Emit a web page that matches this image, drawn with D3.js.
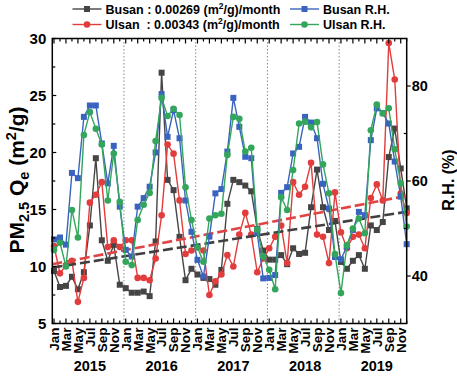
<!DOCTYPE html>
<html><head><meta charset="utf-8">
<script src="https://cdn.jsdelivr.net/npm/d3@7"></script>
<style>
body{margin:0;background:#fff;}
svg{display:block;font-family:"Liberation Sans",Arial,sans-serif;font-weight:bold;}
</style>
</head><body>
<svg id="chart" width="457" height="384"></svg>
<script>
// ---------- data ----------
const monthNames = ["Jan","Feb","Mar","Apr","May","Jun","Jul","Aug","Sep","Oct","Nov","Dec"];
const years = ["2015","2016","2017","2018","2019"];
const busanPM = [
  9.6, 8.2, 8.3, 9.1, 8.0, 9.5, 13.6, 19.5, 12.3, 10.5, 11.9, 8.4,
  8.1, 7.7, 7.7, 7.8, 7.4, 12.2, 27.0, 17.6, 16.7, 12.6, 8.8, 9.8,
  9.3, 9.0, 8.9, 8.4, 9.7, 15.5, 17.6, 17.4, 17.1, 16.6, 13.3, 11.4,
  10.6, 10.6, 11.0, 10.2, 11.6, 11.1, 11.2, 15.2, 18.5, 15.2, 13.2, 14.0,
  10.4, 9.8, 10.5, 11.0, 9.8, 13.6, 13.2, 13.9, 19.6, 22.1, 18.6, 15.1
];
const ulsanPM = [
  11.8, 9.4, 10.1, 10.5, 6.9, 9.0, 15.6, 16.3, 17.4, 11.7, 12.3, 11.7,
  12.3, 12.3, 9.0, 9.0, 8.8, 10.7, 14.5, 20.7, 19.9, 15.8, 11.1, 11.4,
  11.7, 11.4, 7.5, 8.7, 9.3, 11.0, 10.0, 12.8, 14.7, 12.8, 9.5, 10.7,
  11.6, 12.6, 13.6, 10.3, 17.4, 16.3, 17.0, 19.1, 12.8, 12.6, 10.3, 16.5,
  13.0, 11.6, 12.6, 12.8, 11.6, 16.0, 17.2, 15.8, 29.6, 26.4, 16.4, 14.7
];
const busanRH = [
  47.7, 48.1, 46.6, 61.7, 60.6, 73.5, 75.9, 75.9, 67.9, 59.5, 67.4, 54.6,
  45.5, 44.1, 54.6, 56.4, 58.8, 66.0, 78.3, 69.3, 74.9, 69.0, 55.9, 49.3,
  43.4, 39.9, 48.3, 57.4, 58.3, 66.2, 77.5, 71.4, 65.1, 64.8, 49.0, 39.5,
  39.6, 40.2, 57.5, 58.7, 65.8, 67.2, 73.5, 72.3, 69.0, 59.4, 54.2, 44.0,
  43.5, 46.2, 49.7, 53.5, 52.8, 68.6, 75.3, 74.3, 72.1, 64.1, 56.7, 46.7
];
const ulsanRH = [
  45.5, 47.0, 42.0, 53.9, 48.1, 69.7, 74.5, 71.0, 67.7, 55.9, 65.8, 55.6,
  43.0, 42.3, 51.8, 55.0, 57.5, 68.4, 77.5, 73.7, 75.2, 73.9, 58.7, 51.8,
  46.0, 43.0, 52.1, 52.8, 53.1, 65.5, 73.5, 73.1, 66.2, 67.0, 49.8, 44.1,
  41.3, 37.2, 56.6, 53.9, 62.3, 72.1, 72.5, 71.3, 72.4, 63.5, 57.4, 44.6,
  36.4, 46.5, 50.0, 52.1, 49.0, 70.7, 76.1, 74.2, 75.3, 66.7, 59.5, 50.4
];
const trendBusan = [9.9, 14.8];   // PM value at left and right edge
const trendUlsan = [10.2, 16.2];
const leftTicks = [5, 10, 15, 20, 25, 30];
const rightTicks = [40, 60, 80];
const legendLabels = ["Busan : 0.00269 (m", "Ulsan  : 0.00343 (m", "Busan R.H.", "Ulsan R.H."];

// ---------- setup ----------
const C = {black:"#454545", red:"#e23c3c", blue:"#3a63c0", green:"#33a65c"};
const svg = d3.select("#chart");
const L = 52.3, R = 406.7, T = 38.5, B = 323.5;
const idx = d3.range(1, 61);
const x = d3.scaleLinear().domain([0.716, 60]).range([L, R]);
const yL = d3.scaleLinear().domain([5, 30]).range([B, T]);
const yR = d3.scaleLinear().domain([30, 90]).range([B, T]);

// year separators
svg.append("g").selectAll("line").data([12.7, 24.7, 36.7, 48.7]).join("line")
  .attr("x1", d => x(d)).attr("x2", d => x(d)).attr("y1", T).attr("y2", B)
  .attr("stroke", "#888").attr("stroke-width", 1).attr("stroke-dasharray", "1.5,2");

// series
function drawSeries(vals, yScale, color, shape) {
  const g = svg.append("g");
  const line = d3.line().x((d, i) => x(i + 1)).y(d => yScale(d));
  g.append("path").datum(vals).attr("d", line).attr("fill", "none")
    .attr("stroke", color).attr("stroke-width", 1.4);
  if (shape === "square") {
    g.selectAll("rect").data(vals).join("rect")
      .attr("x", (d, i) => x(i + 1) - 3).attr("y", d => yScale(d) - 3)
      .attr("width", 6).attr("height", 6).attr("fill", color);
  } else {
    g.selectAll("circle").data(vals).join("circle")
      .attr("cx", (d, i) => x(i + 1)).attr("cy", d => yScale(d))
      .attr("r", 3.3).attr("fill", color);
  }
}
drawSeries(busanPM, yL, C.black, "square");
drawSeries(ulsanPM, yL, C.red, "circle");

// trend lines
function trend(vals, color) {
  svg.append("line")
    .attr("x1", x(0.716)).attr("x2", x(60))
    .attr("y1", yL(vals[0])).attr("y2", yL(vals[1]))
    .attr("stroke", color).attr("stroke-width", 2.6)
    .attr("stroke-dasharray", "10,4");
}
trend(trendBusan, "#404040");
trend(trendUlsan, "#e04444");

drawSeries(busanRH, yR, C.blue, "square");
drawSeries(ulsanRH, yR, C.green, "circle");

// frame
svg.append("rect").attr("x", L).attr("y", T).attr("width", R - L).attr("height", B - T)
  .attr("fill", "none").attr("stroke", "#000").attr("stroke-width", 1.5);

// ticks helper
function ticks(vals, x1f, y1f, x2f, y2f) {
  svg.append("g").selectAll("line").data(vals).join("line")
    .attr("x1", x1f).attr("y1", y1f).attr("x2", x2f).attr("y2", y2f)
    .attr("stroke", "#000").attr("stroke-width", 1.2);
}
const majorM = idx.filter(i => i % 2 === 1);
const minorM = idx.filter(i => i % 2 === 0);
ticks(majorM, d => x(d), B, d => x(d), B - 5);
ticks(minorM, d => x(d), B, d => x(d), B - 3);
ticks(majorM, d => x(d), T, d => x(d), T + 5);
ticks(minorM, d => x(d), T, d => x(d), T + 3);
const leftMinor = d3.range(7.5, 30, 5);
ticks(leftTicks, L, d => yL(d), L + 4, d => yL(d));
ticks(leftMinor, L, d => yL(d), L + 3, d => yL(d));
ticks(rightTicks, R, d => yR(d), R + 4, d => yR(d));
ticks([50, 70], R, d => yR(d), R - 3, d => yR(d));

// left tick labels
svg.append("g").selectAll("text").data(leftTicks).join("text")
  .attr("x", L - 6).attr("y", d => yL(d)).attr("dy", "0.36em")
  .attr("text-anchor", "end").attr("font-size", 15).text(d => d);
// right tick labels
svg.append("g").selectAll("text").data(rightTicks).join("text")
  .attr("x", R + 5).attr("y", d => yR(d)).attr("dy", "0.36em")
  .attr("text-anchor", "start").attr("font-size", 14.5).text(d => d);

// month labels
svg.append("g").selectAll("text").data(majorM).join("text")
  .attr("transform", d => `translate(${x(d)},${B + 4}) rotate(-90)`)
  .attr("dy", "0.36em").attr("text-anchor", "end").attr("font-size", 13.5)
  .text(d => monthNames[(d - 1) % 12]);
// year labels
svg.append("g").selectAll("text").data(years).join("text")
  .attr("x", (d, k) => x(7 + 12 * k)).attr("y", 371)
  .attr("text-anchor", "middle").attr("font-size", 14.5).text(d => d);

// axis titles
const lt = svg.append("text").attr("transform", "translate(16,180) rotate(-90)")
  .attr("text-anchor", "middle").attr("dy", "0.36em").attr("font-size", 21);
lt.append("tspan").text("PM");
lt.append("tspan").attr("font-size", 14.5).attr("dy", 5).text("2.5");
lt.append("tspan").attr("dy", -5).text(" Q");
lt.append("tspan").attr("font-size", 14.5).attr("dy", 5).text("e");
lt.append("tspan").attr("dy", -5).text(" (m");
lt.append("tspan").attr("font-size", 14.5).attr("dy", -8).text("2");
lt.append("tspan").attr("dy", 8).text("/g)");

svg.append("text").attr("transform", "translate(448,180) rotate(-90)")
  .attr("text-anchor", "middle").attr("dy", "0.36em").attr("font-size", 16)
  .text("R.H. (%)");

// legend
function legendItem(lx, ly, color, shape, parts) {
  svg.append("line").attr("x1", lx).attr("x2", lx + 29).attr("y1", ly).attr("y2", ly)
    .attr("stroke", color).attr("stroke-width", 1.4);
  if (shape === "square") {
    svg.append("rect").attr("x", lx + 14.5 - 3).attr("y", ly - 3).attr("width", 6).attr("height", 6).attr("fill", color);
  } else {
    svg.append("circle").attr("cx", lx + 14.5).attr("cy", ly).attr("r", 3.3).attr("fill", color);
  }
  const t = svg.append("text").attr("x", lx + 33).attr("y", ly).attr("dy", "0.36em")
    .attr("font-size", 12.5).attr("xml:space", "preserve").style("white-space", "pre");
  t.append("tspan").text(parts[0]);
  if (parts.length > 1) {
    t.append("tspan").attr("font-size", 8.5).attr("dy", -5).text(parts[1]);
    t.append("tspan").attr("dy", 5).text(parts[2]);
  }
}
legendItem(72.5, 9, C.black, "square", [legendLabels[0], "2", "/g)/month"]);
legendItem(72.5, 24.5, C.red, "circle", [legendLabels[1], "2", "/g)/month"]);
legendItem(290, 9, C.blue, "square", [legendLabels[2]]);
legendItem(290, 24.5, C.green, "circle", [legendLabels[3]]);
</script>
</body></html>
